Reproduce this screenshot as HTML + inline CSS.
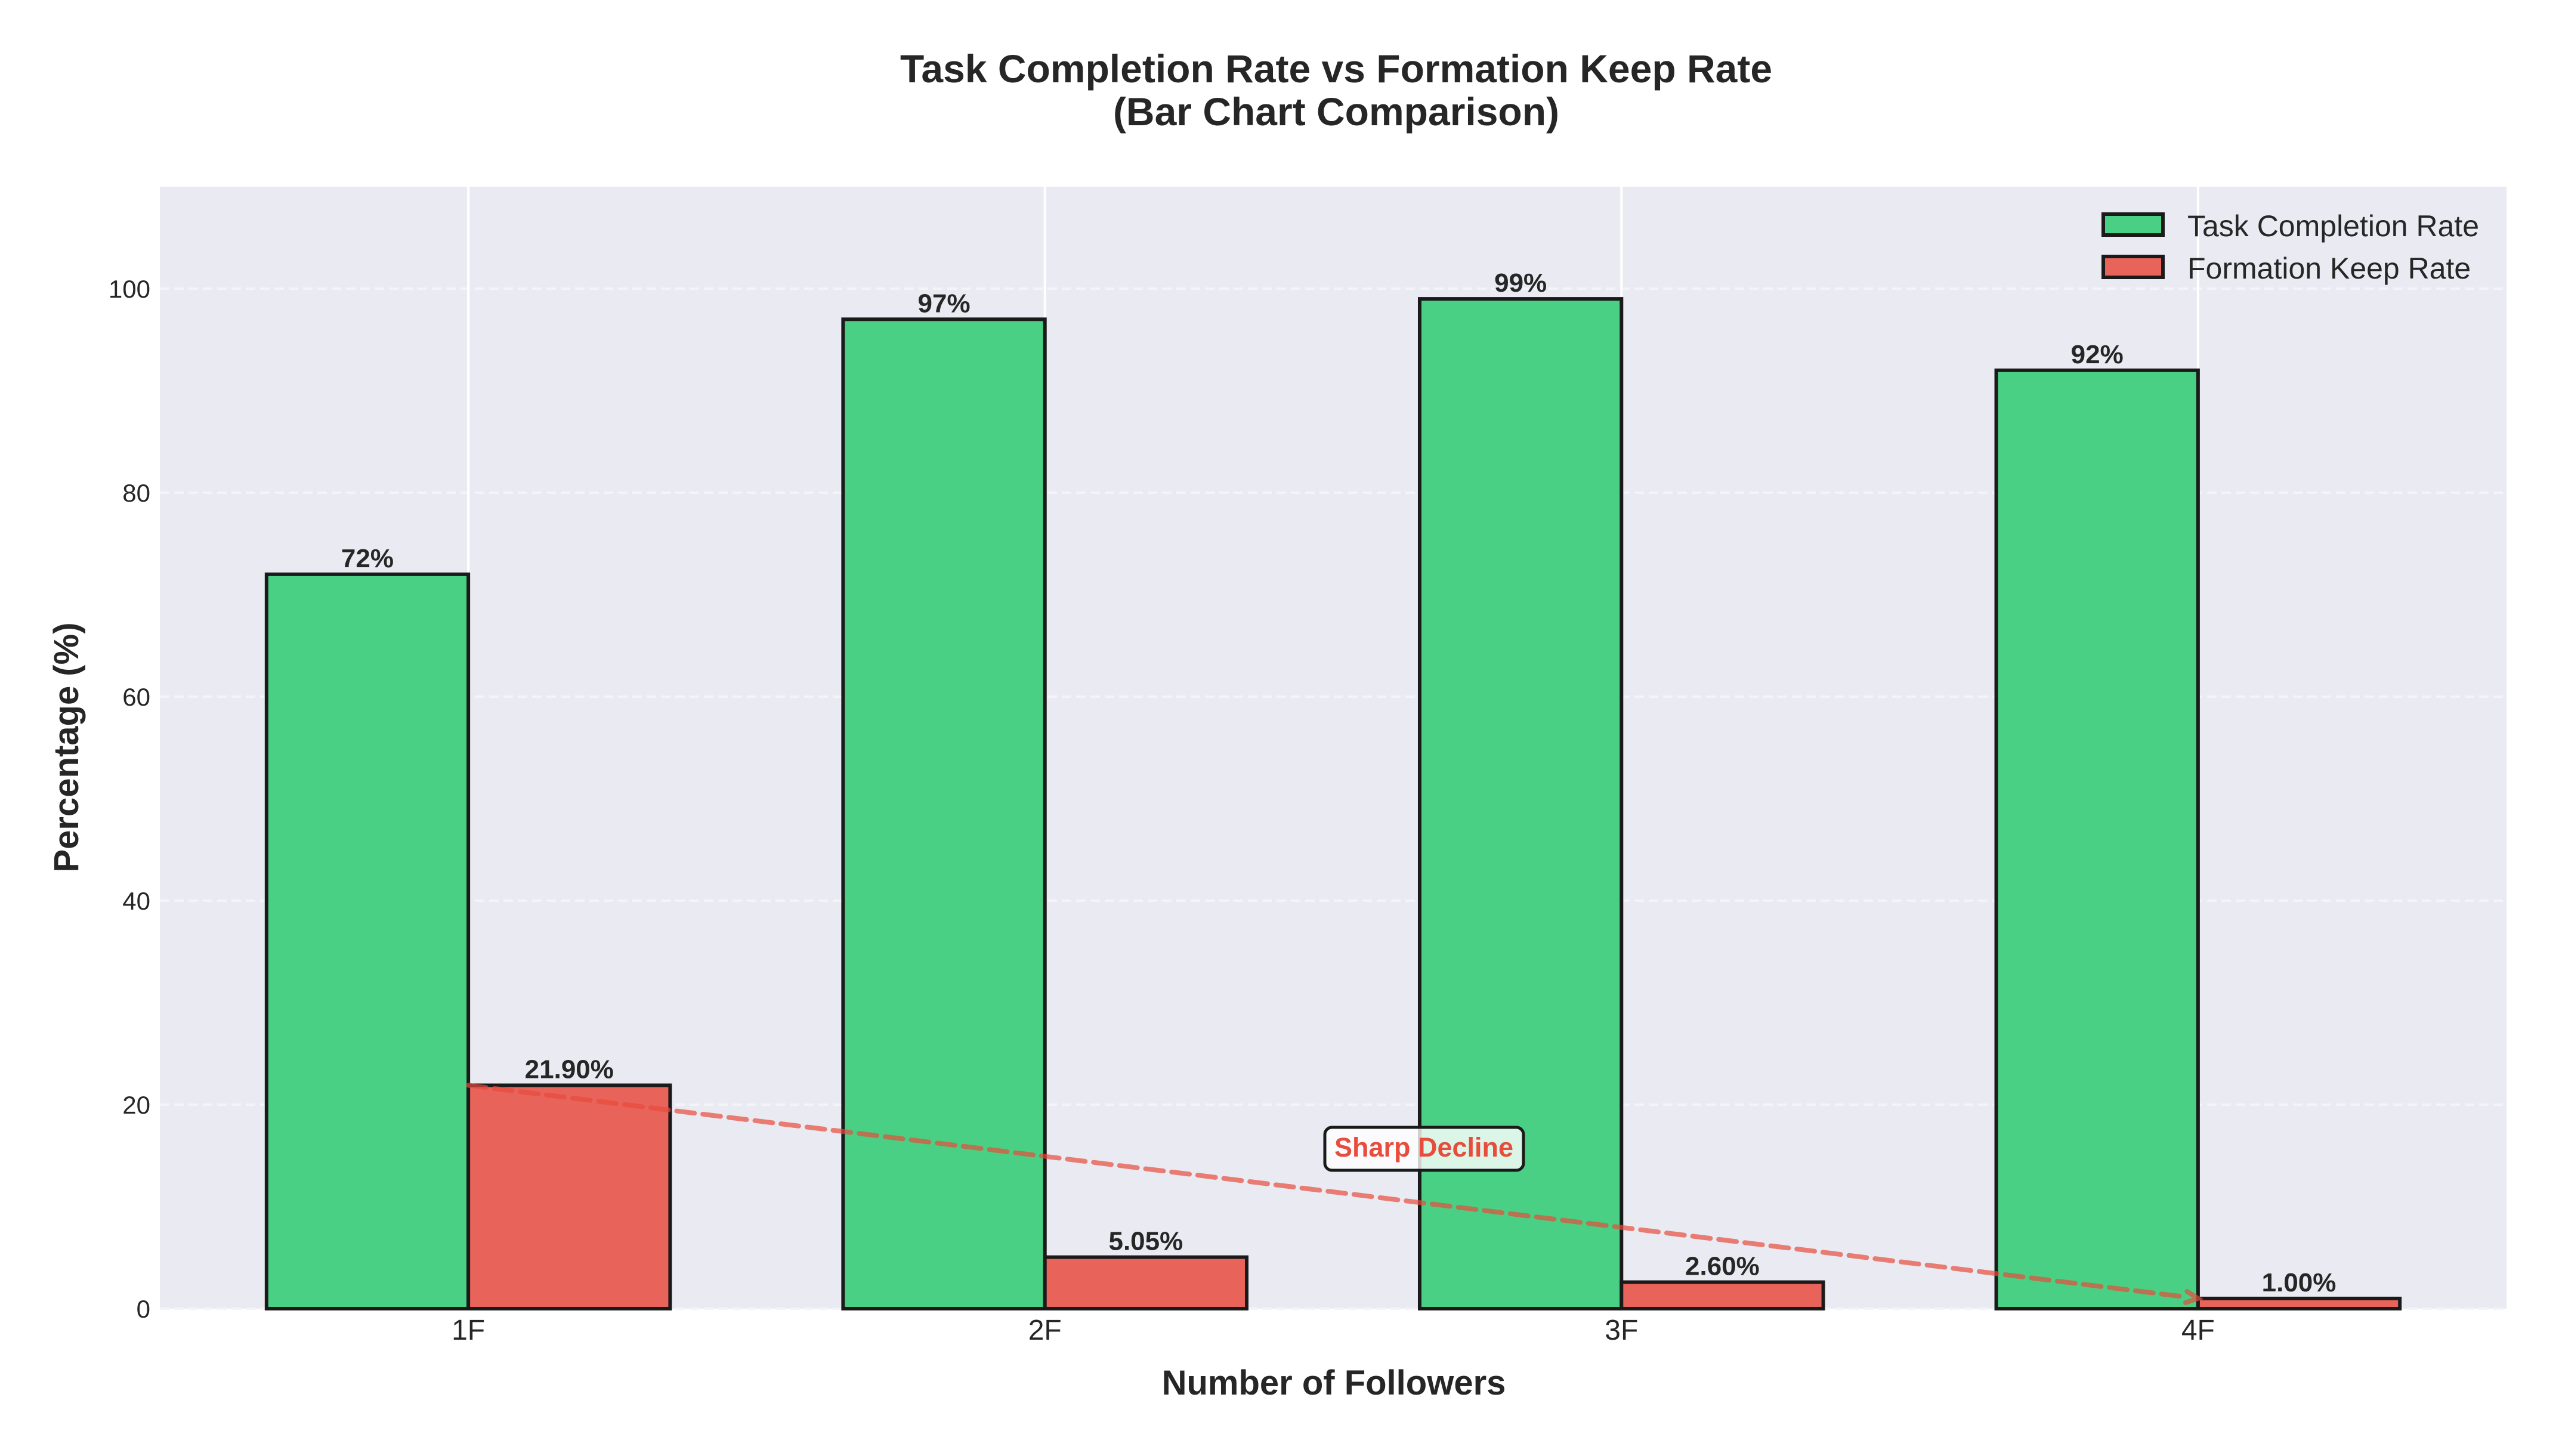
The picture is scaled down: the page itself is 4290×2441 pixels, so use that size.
<!DOCTYPE html>
<html><head><meta charset="utf-8"><style>
html,body{margin:0;padding:0;background:#fff;}
svg{display:block;font-family:"Liberation Sans",Arial,sans-serif;}
</style></head><body>
<svg id="chart" width="4290" height="2441" viewBox="0 0 4290 2441" xmlns="http://www.w3.org/2000/svg">
<rect x="0" y="0" width="4290" height="2441" fill="#fff"/>
<text x="2240" y="138" text-anchor="middle" font-size="66" font-weight="bold" fill="#262626">Task Completion Rate vs Formation Keep Rate</text>
<text x="2240" y="210" text-anchor="middle" font-size="66" font-weight="bold" fill="#262626">(Bar Chart Comparison)</text>
<rect x="268" y="313" width="3934" height="1881" fill="#eaeaf2"/>
<g id="grid"></g>
<g id="bars"></g>
<g id="labels"></g>
<g id="ticks"></g>
<text x="2236" y="2338" text-anchor="middle" font-size="58" font-weight="bold" fill="#262626">Number of Followers</text>
<text transform="translate(131,1253) rotate(-90)" text-anchor="middle" font-size="58" font-weight="bold" fill="#262626">Percentage (%)</text>
<g>
<rect x="3526" y="359" width="100" height="35" fill="#4ad084" stroke="#1a1a1a" stroke-width="6"/>
<text x="3667" y="396" font-size="50" fill="#262626">Task Completion Rate</text>
<rect x="3526" y="430" width="100" height="35" fill="#e8635a" stroke="#1a1a1a" stroke-width="6"/>
<text x="3667" y="467" font-size="50" fill="#262626">Formation Keep Rate</text>
</g>
<g id="trend"></g>
</svg>
<script>
const categories = ["1F","2F","3F","4F"];
const taskCompletion = [72, 97, 99, 92];
const formationKeep = [21.9, 5.05, 2.6, 1.0];
const taskLabels = ["72%","97%","99%","92%"];
const formationLabels = ["21.90%","5.05%","2.60%","1.00%"];
const yTicks = [0,20,40,60,80,100];

const NS="http://www.w3.org/2000/svg";
const L=268,R=4202,T=313,B=2194;
const xMin=-0.535,xMax=3.535,yMax=110;
const xs=v=>L+(v-xMin)/(xMax-xMin)*(R-L);
const ys=v=>B-v/yMax*(B-T);
const bw=0.35;
function mk(tag,attrs,parent){const e=document.createElementNS(NS,tag);for(const k in attrs)e.setAttribute(k,attrs[k]);parent.appendChild(e);return e;}
const grid=document.getElementById('grid'),bars=document.getElementById('bars'),labels=document.getElementById('labels'),ticks=document.getElementById('ticks'),trend=document.getElementById('trend');

yTicks.forEach(t=>{
  const g=mk('line',{x1:L,x2:R,y1:ys(t),y2:ys(t),stroke:'#f4f4f8','stroke-width':4,'stroke-dasharray':'16 8'},grid);
  
  
  const tl=mk('text',{x:L-16,y:ys(t)+15,'text-anchor':'end','font-size':42,fill:'#262626'},ticks);
  tl.textContent=t;
  
  
});
categories.forEach((c,i)=>{
  const g=mk('line',{x1:xs(i),x2:xs(i),y1:T,y2:B,stroke:'#fff','stroke-width':4},grid);
  
  
  const tl=mk('text',{x:xs(i),y:2246,'text-anchor':'middle','font-size':48,fill:'#262626'},ticks);
  tl.textContent=c;
  
  

  const g1=mk('rect',{x:xs(i-bw),y:ys(taskCompletion[i]),width:xs(i)-xs(i-bw),height:B-ys(taskCompletion[i]),fill:'#4ad084',stroke:'#1a1a1a','stroke-width':6},bars);
  
  
  const r1=mk('rect',{x:xs(i),y:ys(formationKeep[i]),width:xs(i+bw)-xs(i),height:B-ys(formationKeep[i]),fill:'#e8635a',stroke:'#1a1a1a','stroke-width':6},bars);
  
  

  const l1=mk('text',{x:xs(i-bw/2),y:ys(taskCompletion[i])-12,'text-anchor':'middle','font-size':44,'font-weight':'bold',fill:'#262626'},labels);
  l1.textContent=taskLabels[i];
  
  
  const l2=mk('text',{x:xs(i+bw/2),y:ys(formationKeep[i])-12,'text-anchor':'middle','font-size':44,'font-weight':'bold',fill:'#262626'},labels);
  l2.textContent=formationLabels[i];
  
  
});
const x1=xs(0),y1=ys(formationKeep[0]),x2=xs(3),y2=ys(formationKeep[3]);
const ang=Math.atan2(y2-y1,x2-x1);
const ln=mk('line',{x1:x1,y1:y1,x2:x2-20*Math.cos(ang),y2:y2-20*Math.sin(ang),stroke:'#e74c3c','stroke-opacity':0.7,'stroke-width':8,'stroke-dasharray':'30 14','stroke-linecap':'round'},trend);


const hl=22,hw=0.45;
const hd=mk('polyline',{points:`${x2-hl*Math.cos(ang-hw)},${y2-hl*Math.sin(ang-hw)} ${x2},${y2} ${x2-hl*Math.cos(ang+hw)},${y2-hl*Math.sin(ang+hw)}`,fill:'none',stroke:'#e74c3c','stroke-opacity':0.7,'stroke-width':8,'stroke-linecap':'round'},trend);


const box=mk('rect',{x:2221,y:1890,width:333,height:72,rx:12,fill:'#fff','fill-opacity':0.8,stroke:'#1a1a1a','stroke-width':5},trend);


const at=mk('text',{x:2387,y:1939,'text-anchor':'middle','font-size':45,'font-weight':'bold',fill:'#e74c3c'},trend);
at.textContent='Sharp Decline';


</script>
</body></html>
